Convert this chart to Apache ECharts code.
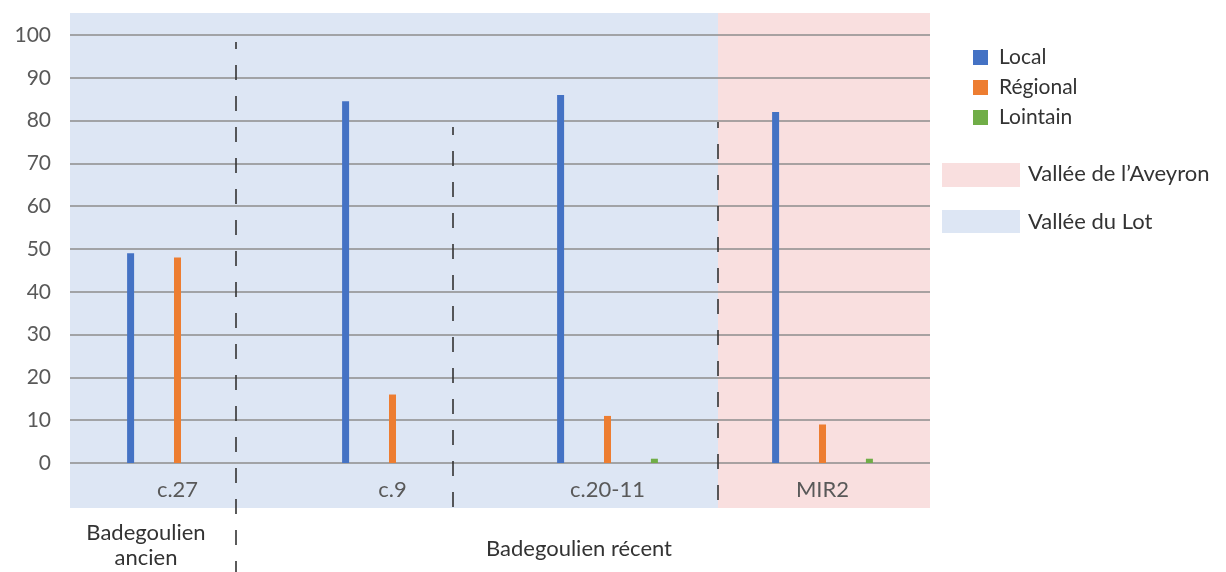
<!DOCTYPE html>
<html>
<head>
<meta charset="utf-8">
<script src="https://cdn.jsdelivr.net/npm/echarts@6/dist/echarts.min.js"></script>
<style>
html,body{margin:0;padding:0;background:#fff;}
#c{width:1226px;height:572px;}
</style>
</head>
<body>
<div id="c"></div>
<script>
const categories = ['c.27', 'c.9', 'c.20-11', 'MIR2'];
const local = [49, 84.5, 86, 82];
const regional = [48, 16, 11, 9];
const lointain = [0, 0, 1, 1];
const yTicks = [0, 10, 20, 30, 40, 50, 60, 70, 80, 90, 100];

const FONT = 'Lato, "Noto Sans", sans-serif';
const TXT = '#595959';
const chart = echarts.init(document.getElementById('c'), null, {renderer: 'canvas'});

function dashLine(x, y1, y2, off) {
  return {
    type: 'line', z: 5,
    shape: {x1: x, y1: y1, x2: x, y2: y2},
    style: {stroke: '#333333', lineWidth: 1.6, lineDash: [15, 16], lineDashOffset: off}
  };
}

const option = {
  backgroundColor: '#ffffff',
  animation: false,
  grid: {left: 70, right: 296, top: 35, bottom: 109},
  legend: {
    orient: 'vertical', left: 973, top: 47, padding: 0,
    itemWidth: 15, itemHeight: 15, itemGap: 9,
    icon: 'rect',
    textStyle: {fontFamily: FONT, fontSize: 21, color: '#333', padding: [0, 0, 0, 6]},
    data: ['Local', 'Régional', 'Lointain']
  },
  xAxis: {
    type: 'category', data: categories,
    axisLine: {show: false}, axisTick: {show: false},
    axisLabel: {fontFamily: FONT, fontSize: 22, color: TXT, margin: 16}
  },
  yAxis: {
    type: 'value', min: yTicks[0], max: yTicks[yTicks.length - 1], interval: 10,
    axisLine: {show: false}, axisTick: {show: false},
    axisLabel: {fontFamily: FONT, fontSize: 21, color: TXT, margin: 19},
    splitLine: {lineStyle: {color: '#8c8c8c', width: 1.5}}
  },
  series: [
    {name: 'Local', type: 'bar', data: local, barWidth: 7, barGap: '570%', itemStyle: {color: '#4472c4'}},
    {name: 'Régional', type: 'bar', data: regional, barWidth: 7, barGap: '570%', itemStyle: {color: '#ed7d31'}},
    {name: 'Lointain', type: 'bar', data: lointain, barWidth: 7, barGap: '570%', itemStyle: {color: '#70ad47'}}
  ],
  graphic: [
    {type: 'rect', z: -1, shape: {x: 70, y: 13, width: 648, height: 495}, style: {fill: '#dde6f4'}},
    {type: 'rect', z: -1, shape: {x: 718, y: 13, width: 212, height: 495}, style: {fill: '#f9dfdf'}},
    dashLine(236, 42, 572, 8),
    dashLine(453, 127, 510, 7),
    dashLine(718, 122, 510, 9),
    {type: 'text', z: 5, style: {x: 146, y: 533, text: 'Badegoulien', textAlign: 'center', textVerticalAlign: 'middle', font: '22px ' + FONT, fill: '#333'}},
    {type: 'text', z: 5, style: {x: 146, y: 558, text: 'ancien', textAlign: 'center', textVerticalAlign: 'middle', font: '22px ' + FONT, fill: '#333'}},
    {type: 'text', z: 5, style: {x: 579, y: 549, text: 'Badegoulien récent', textAlign: 'center', textVerticalAlign: 'middle', font: '22px ' + FONT, fill: '#333'}},
    {type: 'rect', z: 5, shape: {x: 942, y: 163, width: 78, height: 24}, style: {fill: '#f9dfdf'}},
    {type: 'text', z: 5, style: {x: 1028, y: 174, text: 'Vallée de l’Aveyron', textAlign: 'left', textVerticalAlign: 'middle', font: '22px ' + FONT, fill: '#333'}},
    {type: 'rect', z: 5, shape: {x: 942, y: 210, width: 78, height: 23}, style: {fill: '#dde6f4'}},
    {type: 'text', z: 5, style: {x: 1028, y: 222, text: 'Vallée du Lot', textAlign: 'left', textVerticalAlign: 'middle', font: '22px ' + FONT, fill: '#333'}}
  ]
};
chart.setOption(option);
</script>
</body>
</html>
